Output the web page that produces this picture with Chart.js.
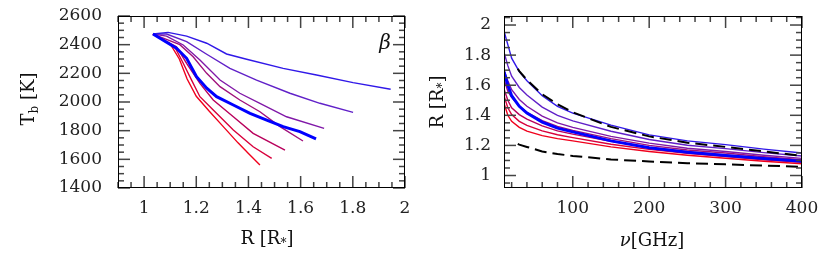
<!DOCTYPE html>
<html><head><meta charset="utf-8">
<script src="https://cdn.jsdelivr.net/npm/chart.js@4.4.0/dist/chart.umd.min.js"></script>
<style>
html,body{margin:0;padding:0;background:#fff;}
#wrap{position:relative;width:830px;height:257px;overflow:hidden;}
canvas{position:absolute;top:0;}
</style></head><body>
<div id="wrap"><canvas id="c1" width="415" height="257" style="left:0"></canvas><canvas id="c2" width="415" height="257" style="left:415px"></canvas></div>
<script>
// ---------- DATA: left panel (T_b vs R) ----------
const leftXTicks = [1, 1.2, 1.4, 1.6, 1.8, 2];
const leftYTicks = [1400, 1600, 1800, 2000, 2200, 2400, 2600];
const r1 = [1.034,1.10,1.135,1.165,1.20,1.25,1.30,1.36,1.40,1.444];
const t1 = [2474,2405,2300,2160,2040,1935,1835,1715,1640,1560];
const r2 = [1.034,1.117,1.150,1.182,1.214,1.265,1.342,1.418,1.489];
const t2 = [2474,2386,2270,2153,2037,1944,1805,1688,1607];
const r3 = [1.034,1.124,1.163,1.214,1.265,1.342,1.418,1.540];
const t3 = [2474,2386,2270,2130,2014,1897,1781,1665];
const r4 = [1.034,1.137,1.188,1.240,1.291,1.367,1.444,1.521,1.609];
const t4 = [2474,2400,2316,2200,2107,2014,1932,1828,1728];
const r5 = [1.034,1.086,1.150,1.214,1.291,1.367,1.444,1.546,1.690];
const t5 = [2474,2460,2398,2293,2153,2061,1991,1897,1816];
const r6 = [1.034,1.086,1.163,1.240,1.329,1.431,1.559,1.674,1.801];
const t6 = [2474,2474,2421,2333,2235,2153,2061,1991,1928];
const r7 = [1.034,1.092,1.163,1.240,1.316,1.393,1.533,1.661,1.801,1.945];
const t7 = [2474,2486,2460,2410,2335,2298,2235,2188,2135,2089];
const rB = [1.034,1.124,1.163,1.201,1.240,1.278,1.342,1.406,1.470,1.533,1.597,1.659];
const tB = [2474,2376,2305,2177,2096,2037,1979,1921,1874,1828,1793,1742];

// ---------- DATA: right panel (R vs nu) ----------
const rightXTicks = [100, 200, 300, 400];
const rightYTicks = [1, 1.2, 1.4, 1.6, 1.8, 2];
const nu = [10, 15, 20, 30, 40, 60, 80, 100, 150, 200, 250, 300, 350, 400];
const R1 = [1.48,1.40,1.36,1.32,1.295,1.265,1.245,1.23,1.19,1.16,1.135,1.115,1.095,1.078];
const R2 = [1.53,1.45,1.405,1.36,1.333,1.297,1.271,1.252,1.208,1.174,1.147,1.126,1.105,1.087];
const R3 = [1.575,1.50,1.45,1.405,1.375,1.33,1.297,1.275,1.227,1.187,1.158,1.137,1.115,1.096];
const R4 = [1.64,1.56,1.52,1.46,1.42,1.365,1.327,1.30,1.245,1.20,1.17,1.15,1.125,1.105];
const R5 = [1.70,1.63,1.57,1.505,1.46,1.395,1.35,1.32,1.26,1.215,1.181,1.16,1.135,1.114];
const R6 = [1.82,1.73,1.66,1.585,1.535,1.455,1.40,1.363,1.294,1.239,1.201,1.179,1.152,1.13];
const R7 = [1.96,1.87,1.78,1.69,1.63,1.53,1.46,1.415,1.335,1.27,1.23,1.205,1.175,1.15];
const RB = [1.69,1.60,1.53,1.46,1.415,1.355,1.315,1.29,1.23,1.185,1.155,1.133,1.113,1.095];
const nuD = [28, 30, 40, 60, 80, 100, 150, 200, 250, 300, 350, 400];
const RDup = [1.71,1.694,1.635,1.54,1.474,1.42,1.323,1.26,1.218,1.19,1.16,1.131];
const RDlo = [1.21,1.205,1.19,1.16,1.143,1.13,1.107,1.093,1.082,1.074,1.066,1.058];

// ---------- styling ----------
const colors = ['#f0001c','#d8003c','#b8005c','#a0107c','#8018a8','#6020c8','#3018e8'];
const FONT = 'DejaVu Serif';
const pts = (xs, ys) => xs.map((v, i) => ({x: v, y: ys[i]}));
function thin(xs, ys, c){ return {data: pts(xs, ys), borderColor: c, borderWidth: 1.4, pointRadius: 0, showLine: true, fill: false, tension: 0}; }
function thick(xs, ys){ return {data: pts(xs, ys), borderColor: '#0000ff', borderWidth: 3, pointRadius: 0, showLine: true, fill: false}; }
function dashed(xs, ys){ return {data: pts(xs, ys), borderColor: '#000', borderWidth: 2, borderDash: [12, 6], pointRadius: 0, showLine: true, fill: false}; }

function makeFrameTicks(xMajors, xMinor, yMajors, yMinor) {
  return {
    id: 'frameTicks',
    afterDraw(chart) {
      const ctx = chart.ctx, a = chart.chartArea, sx = chart.scales.x, sy = chart.scales.y;
      ctx.save();
      ctx.fillStyle = '#444';
      const L = 12, l = 6, w = 1.5;
      const top = Math.round(a.top), bot = Math.round(a.bottom), lef = Math.round(a.left), rig = Math.round(a.right);
      const ticksOn = (scale, majors, step, horiz) => {
        const k0 = Math.ceil(scale.min / step - 1e-6), k1 = Math.floor(scale.max / step + 1e-6);
        for (let k = k0; k <= k1; k++) {
          const v = k * step;
          const len = majors.some(m => Math.abs(m - v) < step / 10) ? L : l;
          const p = scale.getPixelForValue(v);
          if (horiz) {
            ctx.fillRect(p - w / 2, bot - len, w, len);
            ctx.fillRect(p - w / 2, top, w, len);
          } else {
            ctx.fillRect(lef, p - w / 2, len, w);
            ctx.fillRect(rig - len, p - w / 2, len, w);
          }
        }
      };
      ticksOn(sx, xMajors, xMinor, true);
      ticksOn(sy, yMajors, yMinor, false);
      ctx.fillStyle = '#000';
      ctx.fillRect(lef, top, rig - lef, 1);
      ctx.fillRect(lef, bot - 1, rig - lef, 1);
      ctx.fillRect(lef, top, 1, bot - top);
      ctx.fillRect(rig - 1, top, 1, bot - top);
      ctx.restore();
    }
  };
}

function drawRich(ctx, parts, cx, cy, rot) {
  ctx.save();
  ctx.translate(cx, cy);
  if (rot) ctx.rotate(rot);
  ctx.textBaseline = 'alphabetic';
  ctx.fillStyle = '#111';
  let w = 0;
  parts.forEach(p => { ctx.font = p.font; p.w = ctx.measureText(p.t).width; w += p.w; });
  let xx = -w / 2;
  parts.forEach(p => { ctx.font = p.font; ctx.fillText(p.t, xx, 6 + (p.dy || 0)); xx += p.w; });
  ctx.restore();
}
const F = s => s + 'px "' + FONT + '"';
const FI = s => 'italic ' + s + 'px "' + FONT + '"';

const titlesLeft = {
  id: 'titlesLeft',
  afterDraw(chart) {
    const ctx = chart.ctx;
    drawRich(ctx, [{t: 'T', font: F(18)}, {t: 'b', font: F(12), dy: 4}, {t: ' [K]', font: F(18)}], 28, 99, -Math.PI / 2);
    drawRich(ctx, [{t: 'R [R', font: F(18)}, {t: '*', font: F(12), dy: 3}, {t: ']', font: F(18)}], 267, 238);
    drawRich(ctx, [{t: 'β', font: FI(20)}], 385, 43);
  }
};
const titlesRight = {
  id: 'titlesRight',
  afterDraw(chart) {
    const ctx = chart.ctx;
    drawRich(ctx, [{t: 'R [R', font: F(18)}, {t: '*', font: F(12), dy: 3}, {t: ']', font: F(18)}], 22, 102, -Math.PI / 2);
    drawRich(ctx, [{t: 'ν', font: FI(18)}, {t: '[GHz]', font: F(18)}], 237, 240);
  }
};

function makeScale(min, max, ticksArr, padding, fitProp, fitVal) {
  return {
    type: 'linear', min, max,
    grid: {display: false, drawTicks: false},
    border: {display: false},
    afterBuildTicks: s => { s.ticks = ticksArr.map(v => ({value: v})); },
    afterFit: s => { s[fitProp] = fitVal; s.paddingTop = 0; s.paddingBottom = 0; s.paddingLeft = 0; s.paddingRight = 0; },
    ticks: {padding, color: '#222', font: {family: FONT, size: 17}, maxRotation: 0, autoSkip: false, callback: v => String(v)}
  };
}

Chart.defaults.devicePixelRatio = 1;

new Chart(document.getElementById('c1'), {
  type: 'scatter',
  data: {datasets: [
    thick(rB, tB),
    thin(r7, t7, colors[6]), thin(r6, t6, colors[5]), thin(r5, t5, colors[4]), thin(r4, t4, colors[3]),
    thin(r3, t3, colors[2]), thin(r2, t2, colors[1]), thin(r1, t1, colors[0])
  ]},
  options: {
    responsive: false, animation: false, devicePixelRatio: 1,
    layout: {padding: {top: 16, right: 10, left: 0, bottom: 0}},
    plugins: {legend: {display: false}, tooltip: {enabled: false}},
    scales: {
      x: makeScale(0.9, 2.0, leftXTicks, 10, 'height', 69),
      y: makeScale(1400, 2600, leftYTicks, 16, 'width', 118)
    }
  },
  plugins: [makeFrameTicks(leftXTicks, 0.05, leftYTicks, 50), titlesLeft]
});

new Chart(document.getElementById('c2'), {
  type: 'scatter',
  data: {datasets: [
    thick(nu, RB),
    dashed(nuD, RDup), dashed(nuD, RDlo),
    thin(nu, R7, colors[6]), thin(nu, R6, colors[5]), thin(nu, R5, colors[4]), thin(nu, R4, colors[3]),
    thin(nu, R3, colors[2]), thin(nu, R2, colors[1]), thin(nu, R1, colors[0])
  ]},
  options: {
    responsive: false, animation: false, devicePixelRatio: 1,
    layout: {padding: {top: 16, right: 28, left: 0, bottom: 0}},
    plugins: {legend: {display: false}, tooltip: {enabled: false}},
    scales: {
      x: makeScale(10, 400, rightXTicks, 10, 'height', 69),
      y: makeScale(0.917, 2.06, rightYTicks, 13, 'width', 89)
    }
  },
  plugins: [makeFrameTicks(rightXTicks, 20, rightYTicks, 0.05), titlesRight]
});
</script>
</body></html>
